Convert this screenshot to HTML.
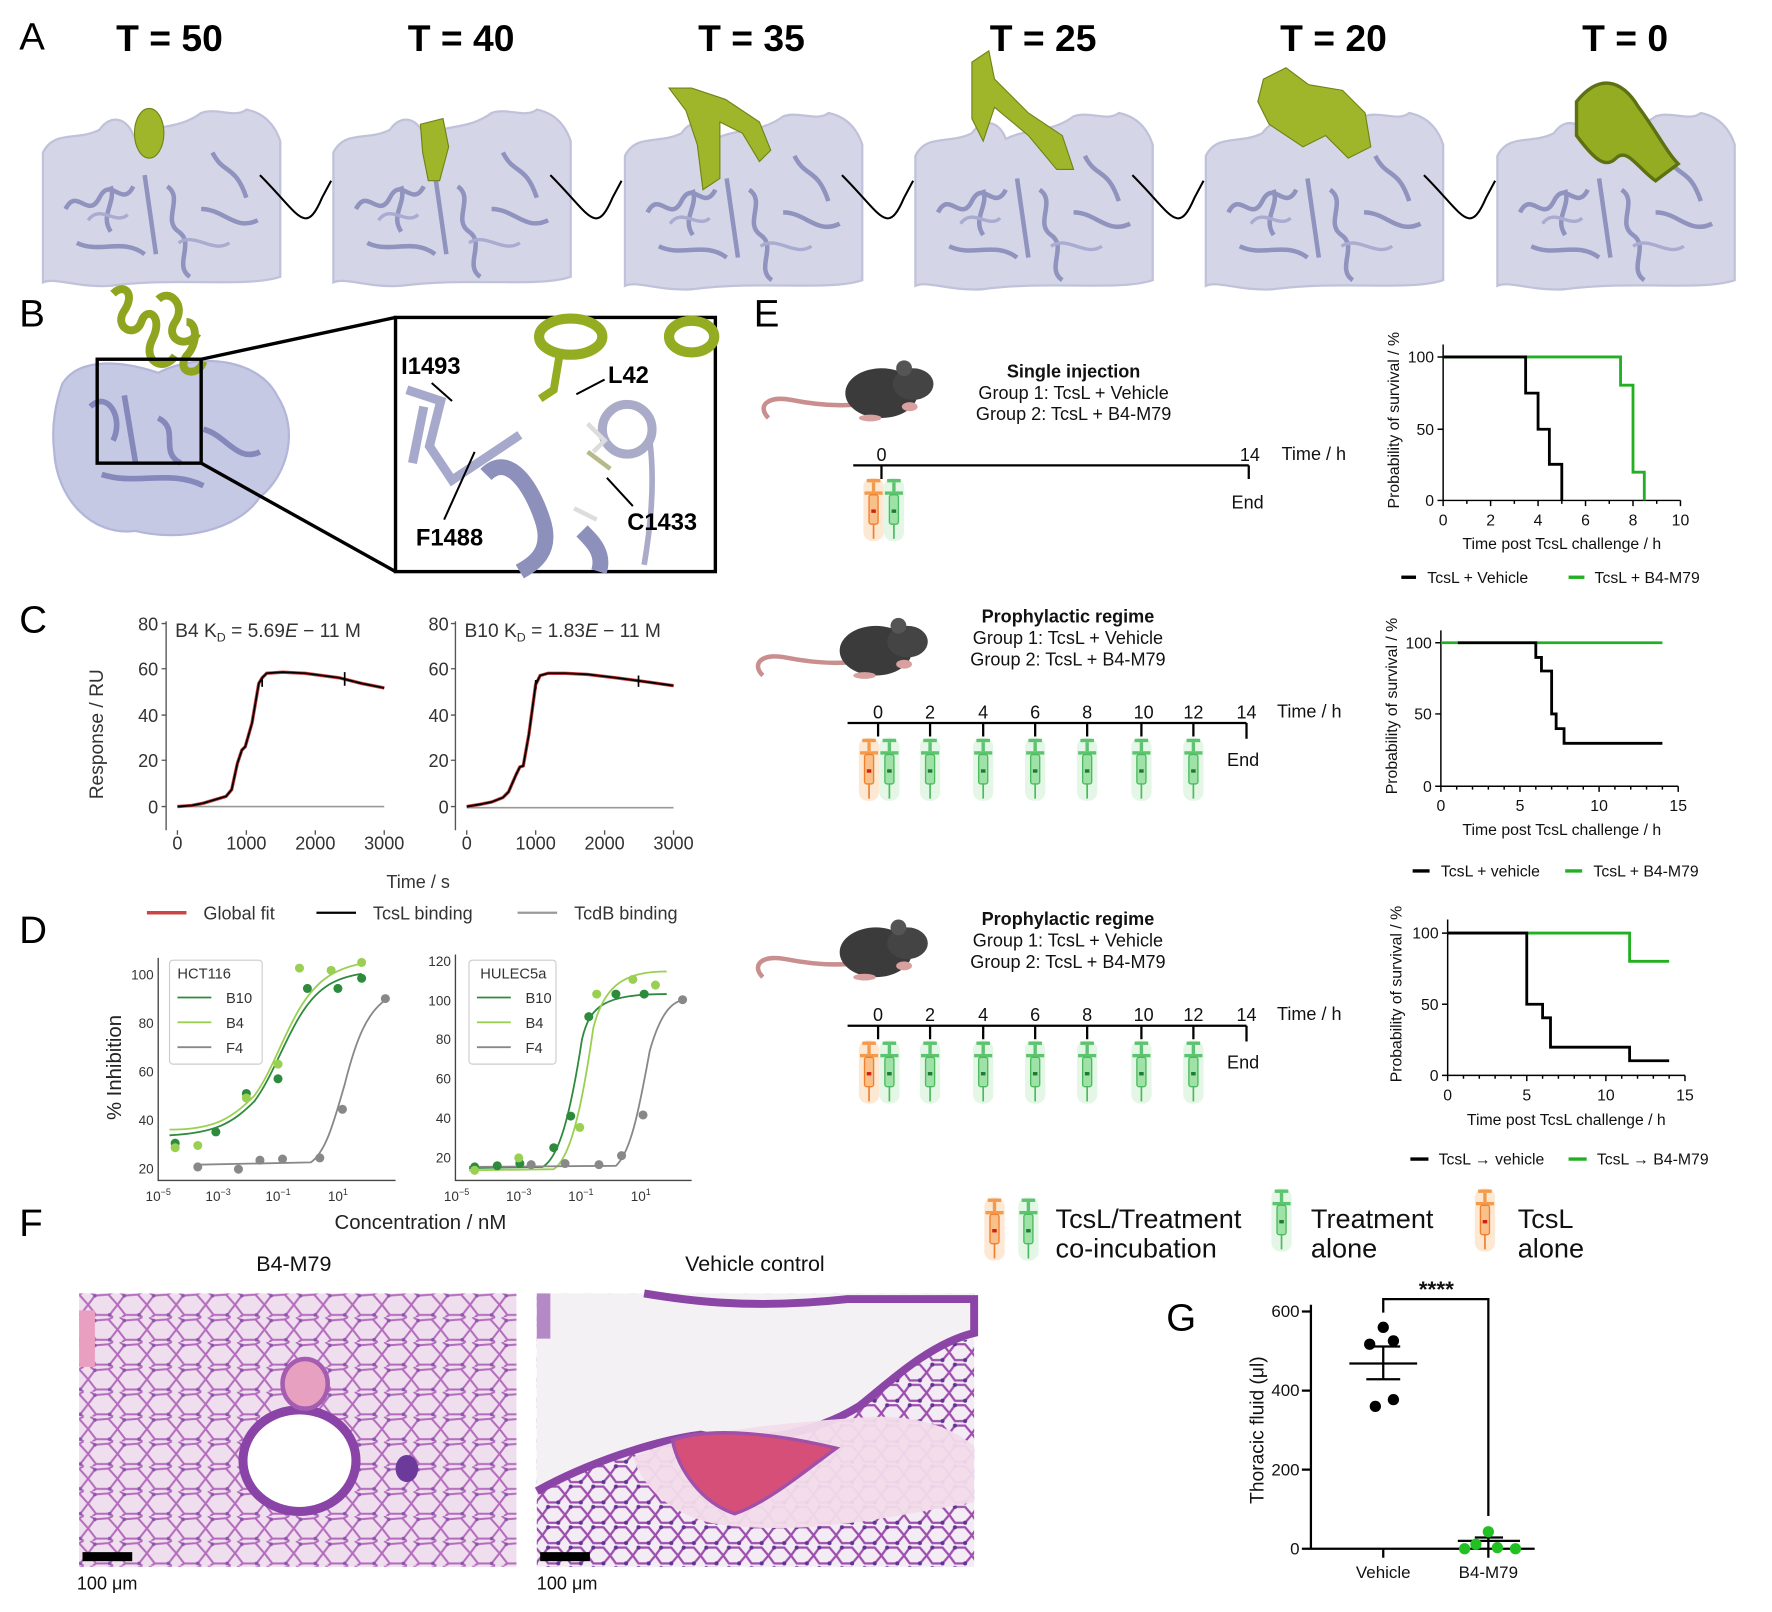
<!DOCTYPE html>
<html><head><meta charset="utf-8"><style>
html,body{margin:0;padding:0;background:#fff;}
svg{display:block;font-family:"Liberation Sans",sans-serif;}
</style></head><body>
<svg width="1772" height="1612" viewBox="0 0 1568 1427" preserveAspectRatio="none" xmlns="http://www.w3.org/2000/svg">
<defs>
<symbol id="sg" viewBox="-12 -2 24 60" overflow="visible">
 <rect x="-9" y="-1" width="18" height="56" rx="8" fill="#d8f3dc" opacity="0.7"/>
 <rect x="-6" y="0" width="12" height="3" fill="#5cc36f"/>
 <rect x="-1.5" y="3" width="3" height="8" fill="#5cc36f"/>
 <rect x="-8" y="11" width="16" height="3" fill="#5cc36f"/>
 <rect x="-4" y="14" width="8" height="26" rx="2" fill="#9ee2a8" stroke="#4cbb5f" stroke-width="1.2"/>
 <rect x="-2" y="27" width="4" height="3" fill="#1f7a30"/>
 <line x1="0" y1="40" x2="0" y2="53" stroke="#4cbb5f" stroke-width="1.5"/>
</symbol>
<symbol id="so" viewBox="-12 -2 24 60" overflow="visible">
 <rect x="-9" y="-1" width="18" height="56" rx="8" fill="#fde2c8" opacity="0.8"/>
 <rect x="-6" y="0" width="12" height="3" fill="#f39a4c"/>
 <rect x="-1.5" y="3" width="3" height="8" fill="#f39a4c"/>
 <rect x="-8" y="11" width="16" height="3" fill="#f39a4c"/>
 <rect x="-4" y="14" width="8" height="26" rx="2" fill="#f9c08a" stroke="#f08030" stroke-width="1.2"/>
 <rect x="-2" y="27" width="4" height="3" fill="#d02010"/>
 <line x1="0" y1="40" x2="0" y2="53" stroke="#f08030" stroke-width="1.5"/>
</symbol>
<symbol id="mouse" overflow="visible">
 <path d="M-70,40 C-80,30 -72,20 -50,24 C-30,28 -10,30 10,28" fill="none" stroke="#c98f8f" stroke-width="4"/>
 <ellipse cx="30" cy="18" rx="32" ry="22" fill="#3b3b3b"/>
 <ellipse cx="58" cy="10" rx="18" ry="14" fill="#444"/>
 <circle cx="50" cy="-4" r="7" fill="#555"/>
 <ellipse cx="55" cy="30" rx="7" ry="4" fill="#d9a0a0"/>
 <ellipse cx="20" cy="40" rx="10" ry="3" fill="#d9a0a0"/>
</symbol>
<symbol id="prot" overflow="visible">
 <path d="M0,40 C10,20 30,30 50,20 C60,5 75,10 80,25 C100,15 120,20 140,5 C155,0 170,10 180,2 C195,5 205,15 210,30 L210,150 C180,160 120,150 60,158 C30,160 10,150 0,155 Z" fill="#d4d6e8" stroke="#c0c2da" stroke-width="2"/>
 <path d="M20,90 c10,-20 20,10 30,-10 c10,-20 20,10 30,-10 M90,60 l10,70 M110,70 c15,10 -5,30 10,40 c15,10 -5,30 10,40 M140,90 c20,0 30,20 50,10 M30,120 c20,10 40,-5 60,10 M150,40 c10,20 20,10 30,40 M60,70 c5,15 -10,25 0,40" fill="none" stroke="#8f93bd" stroke-width="4"/>
 <path d="M40,100 c10,-15 25,5 35,-5 M120,120 c15,-10 30,10 45,0" fill="none" stroke="#a9acd0" stroke-width="3"/>
</symbol>
<pattern id="lung" width="26" height="22" patternUnits="userSpaceOnUse">
 <rect width="26" height="22" fill="#f7f0f6"/>
 <path d="M0,11 L6,3 L18,2 L26,11 L19,20 L7,20 Z M6,3 L2,0 M18,2 L22,0 M7,20 L4,22 M19,20 L22,22" fill="none" stroke="#a957b4" stroke-width="1.8"/>
 <circle cx="6" cy="3" r="1.6" fill="#6d3f9e"/><circle cx="19" cy="20" r="1.6" fill="#6d3f9e"/>
</pattern>
<pattern id="lung2" width="20" height="18" patternUnits="userSpaceOnUse">
 <rect width="20" height="18" fill="#f4ecf4"/>
 <path d="M0,9 L5,2 L14,2 L20,9 L14,16 L5,16 Z" fill="none" stroke="#9e4eae" stroke-width="2"/>
 <circle cx="5" cy="2" r="1.8" fill="#5e3494"/><circle cx="14" cy="16" r="1.8" fill="#5e3494"/>
</pattern>
</defs>

<!-- Panel A -->
<text x="17" y="44" font-size="34">A</text>
<g font-size="33" font-weight="bold" text-anchor="middle">
<text x="150" y="45">T = 50</text><text x="408" y="45">T = 40</text><text x="665" y="45">T = 35</text>
<text x="923" y="45">T = 25</text><text x="1180" y="45">T = 20</text><text x="1438" y="45">T = 0</text>
</g>
<use href="#prot" x="38" y="95"/><use href="#prot" x="295" y="95"/><use href="#prot" x="553" y="98"/>
<use href="#prot" x="810" y="98"/><use href="#prot" x="1067" y="98"/><use href="#prot" x="1325" y="98"/>
<g fill="#9fb52a" stroke="#6f8418" stroke-width="1">
<ellipse cx="132" cy="118" rx="13" ry="22"/>
<path d="M372,110 l20,-5 l5,25 l-8,30 l-10,0 l-5,-25 z"/>
<path d="M592,78 l20,0 l30,10 l30,20 l10,25 l-10,10 l-15,-25 l-20,-10 l0,50 l-15,10 l-5,-40 l-10,-30 z"/>
<path d="M860,55 l15,-10 l5,25 l30,30 l30,20 l10,30 l-15,0 l-25,-30 l-30,-25 l-10,30 l-10,-20 z"/>
<path d="M1118,70 l20,-10 l20,15 l30,5 l20,20 l5,30 l-20,10 l-20,-20 l-20,10 l-30,-20 l-10,-20 z"/>
</g>
<path d="M1395,90 c20,-25 40,-20 55,5 c15,20 25,40 35,50 l-20,15 c-15,-10 -25,-30 -35,-20 c-10,10 -20,0 -35,-20 z" fill="#93ac22" stroke="#5d7012" stroke-width="3"/>
<g fill="none" stroke="#000" stroke-width="1.8">
<path d="M230,155 C265,190 270,210 285,175 L293,160"/><path d="M487,155 C522,190 527,210 542,175 L550,160"/>
<path d="M745,155 C780,190 785,210 800,175 L808,160"/><path d="M1002,155 C1037,190 1042,210 1057,175 L1065,160"/>
<path d="M1260,155 C1295,190 1300,210 1315,175 L1323,160"/>
</g>

<!-- Panel B -->
<text x="17" y="289" font-size="34">B</text>
<path d="M55,340 C70,315 110,320 140,330 C180,310 230,320 245,350 C265,380 255,420 230,440 C210,470 160,480 120,470 C80,475 50,440 48,400 C45,375 50,355 55,340 Z" fill="#c6c9e4" stroke="#b3b6d8" stroke-width="2"/>
<path d="M80,360 c15,-15 30,10 20,30 M110,350 l10,60 M140,370 c20,10 0,30 20,40 M90,420 c30,10 60,-5 90,10 M180,380 c20,5 30,30 50,20" fill="none" stroke="#8488ba" stroke-width="5"/>
<path d="M100,260 c10,-10 20,0 10,15 c-10,15 10,25 15,10 c5,-15 20,-5 10,15 c-10,20 10,30 20,15 M140,265 c10,-10 25,5 15,20 c-10,15 10,25 20,10 M165,285 c10,0 10,20 0,30 c-10,15 10,20 15,5" fill="none" stroke="#8fa41f" stroke-width="7"/>
<rect x="86" y="318" width="92" height="92" fill="none" stroke="#000" stroke-width="3"/>
<line x1="178" y1="318" x2="350" y2="281" stroke="#000" stroke-width="3"/>
<line x1="178" y1="410" x2="350" y2="506" stroke="#000" stroke-width="3"/>
<rect x="350" y="281" width="283" height="225" fill="#fff" stroke="#000" stroke-width="3"/>
<g fill="none">
<ellipse cx="505" cy="298" rx="28" ry="16" stroke="#93ac22" stroke-width="9"/>
<ellipse cx="612" cy="298" rx="20" ry="14" stroke="#93ac22" stroke-width="9"/>
<path d="M495,315 l-5,30 l-12,8" stroke="#93ac22" stroke-width="7"/>
<circle cx="555" cy="380" r="22" stroke="#a9abc9" stroke-width="8"/>
<path d="M575,390 c5,40 0,80 -5,110" stroke="#a9abc9" stroke-width="5"/>
<path d="M360,345 l30,10 l-10,40 l20,30 l60,-40 M375,360 l-10,50" stroke="#a6a9cb" stroke-width="8"/>
<path d="M430,420 c20,-20 40,10 50,40 c10,30 -10,40 -20,46 M515,470 c10,10 20,20 15,36" stroke="#8d90ba" stroke-width="14"/>
<path d="M520,375 l15,15 l-10,10 M508,450 l20,10" stroke="#ddd" stroke-width="4"/>
<path d="M520,400 l20,15" stroke="#b8b98a" stroke-width="4"/>
</g>
<g font-size="21" font-weight="bold">
<text x="355" y="331">I1493</text><text x="538" y="339">L42</text>
<text x="368" y="483">F1488</text><text x="555" y="469">C1433</text>
</g>
<g stroke="#000" stroke-width="1.8" fill="#000">
<line x1="382" y1="339" x2="400" y2="355"/><line x1="535" y1="336" x2="510" y2="349"/>
<line x1="393" y1="460" x2="420" y2="400"/><line x1="560" y1="448" x2="537" y2="423"/>
</g>

<!-- Panel C -->
<text x="17" y="560" font-size="34">C</text>
<g font-size="16" fill="#333" text-anchor="end">
<text x="140" y="558">80</text><text x="140" y="598">60</text><text x="140" y="639">40</text><text x="140" y="679">20</text><text x="140" y="720">0</text>
<text x="397" y="558">80</text><text x="397" y="598">60</text><text x="397" y="639">40</text><text x="397" y="679">20</text><text x="397" y="720">0</text>
</g>
<g stroke="#555" stroke-width="1.2" fill="none">
<path d="M147,550 V735 M143,552 H147 M143,592 H147 M143,633 H147 M143,673 H147 M143,714 H147"/>
<path d="M157,735 v4 M218,735 v4 M279,735 v4 M340,735 v4"/>
<path d="M403,550 V735 M399,552 H403 M399,592 H403 M399,633 H403 M399,673 H403 M399,714 H403"/>
<path d="M413,735 v4 M474,735 v4 M535,735 v4 M596,735 v4"/>
</g>
<g font-size="16" fill="#333" text-anchor="middle">
<text x="157" y="752">0</text><text x="218" y="752">1000</text><text x="279" y="752">2000</text><text x="340" y="752">3000</text>
<text x="413" y="752">0</text><text x="474" y="752">1000</text><text x="535" y="752">2000</text><text x="596" y="752">3000</text>
<text x="370" y="786">Time / s</text>
</g>
<text x="155" y="564" font-size="17" fill="#333">B4 K<tspan font-size="11" dy="4">D</tspan><tspan dy="-4"> = 5.69<tspan font-style="italic">E</tspan> − 11 M</tspan></text>
<text x="411" y="564" font-size="17" fill="#333">B10 K<tspan font-size="11" dy="4">D</tspan><tspan dy="-4"> = 1.83<tspan font-style="italic">E</tspan> − 11 M</tspan></text>
<text transform="translate(91,650) rotate(-90)" font-size="17" fill="#333" text-anchor="middle">Response / RU</text>
<line x1="157" y1="714" x2="340" y2="714" stroke="#999" stroke-width="1.5"/>
<line x1="413" y1="715" x2="596" y2="715" stroke="#999" stroke-width="1.5"/>
<path d="M157,714 L170,713 L180,711 L200,705 L205,699 L210,676 L214,664 L217,661 L223,640 L229,605 L232,600 L236,596 L250,595 L270,596 L300,600 L320,605 L340,609" fill="none" stroke="#c44" stroke-width="3"/>
<path d="M157,714 L170,713 L180,711 L200,705 L205,699 L210,676 L214,664 L217,661 L223,640 L229,605 L232,600 L236,596 L250,595 L270,596 L300,600 L320,605 L340,609" fill="none" stroke="#000" stroke-width="1.6"/>
<path d="M413,714 L425,712 L435,710 L445,706 L450,701 L457,685 L460,679 L463,678 L468,650 L474,606 L478,598 L485,596 L500,596 L520,597 L545,600 L575,604 L596,607" fill="none" stroke="#c44" stroke-width="3"/>
<path d="M413,714 L425,712 L435,710 L445,706 L450,701 L457,685 L460,679 L463,678 L468,650 L474,606 L478,598 L485,596 L500,596 L520,597 L545,600 L575,604 L596,607" fill="none" stroke="#000" stroke-width="1.6"/>
<path d="M232,600 v8 M305,595 v12 M474,602 v8 M565,598 v10" stroke="#000" stroke-width="1.5"/>
<g font-size="16" fill="#333">
<line x1="130" y1="808" x2="165" y2="808" stroke="#c44" stroke-width="3"/><text x="180" y="814">Global fit</text>
<line x1="280" y1="808" x2="315" y2="808" stroke="#000" stroke-width="2"/><text x="330" y="814">TcsL binding</text>
<line x1="458" y1="808" x2="493" y2="808" stroke="#999" stroke-width="2"/><text x="508" y="814">TcdB binding</text>
</g>

<!-- Panel D -->
<text x="17" y="835" font-size="34">D</text>
<g stroke="#444" stroke-width="1.2" fill="none">
<path d="M140,848 V1045 H350"/><path d="M403,845 V1045 H612"/>
</g>
<g font-size="12" fill="#333" text-anchor="end">
<text x="136" y="867">100</text><text x="136" y="910">80</text><text x="136" y="953">60</text><text x="136" y="996">40</text><text x="136" y="1039">20</text>
<text x="399" y="855">120</text><text x="399" y="890">100</text><text x="399" y="924">80</text><text x="399" y="959">60</text><text x="399" y="994">40</text><text x="399" y="1029">20</text>
</g>
<g font-size="12" fill="#333" text-anchor="middle">
<text x="140" y="1063">10<tspan font-size="8" dy="-5">−5</tspan></text><text x="193" y="1063">10<tspan font-size="8" dy="-5">−3</tspan></text>
<text x="246" y="1063">10<tspan font-size="8" dy="-5">−1</tspan></text><text x="299" y="1063">10<tspan font-size="8" dy="-5">1</tspan></text>
<text x="404" y="1063">10<tspan font-size="8" dy="-5">−5</tspan></text><text x="459" y="1063">10<tspan font-size="8" dy="-5">−3</tspan></text>
<text x="514" y="1063">10<tspan font-size="8" dy="-5">−1</tspan></text><text x="567" y="1063">10<tspan font-size="8" dy="-5">1</tspan></text>
</g>
<text x="372" y="1088" font-size="18" fill="#222" text-anchor="middle">Concentration / nM</text>
<text transform="translate(107,945) rotate(-90)" font-size="18" fill="#222" text-anchor="middle">% Inhibition</text>
<g fill="none" stroke-width="1.6">
<path d="M150,1005 C190,1003 205,995 225,975 C240,955 250,925 265,900 C280,875 295,866 320,862" stroke="#2e8b3e"/>
<path d="M150,1000 C190,1000 205,990 225,970 C240,950 250,918 265,893 C280,868 295,858 320,853" stroke="#9ad052"/>
<path d="M175,1031 L275,1029 C288,1020 295,995 305,960 C315,920 325,895 343,884" stroke="#888"/>
<path d="M415,1034 L480,1033 C495,1025 505,985 515,920 C522,890 535,880 590,880" stroke="#2e8b3e"/>
<path d="M415,1036 L490,1035 C505,1025 515,980 525,910 C535,870 555,860 590,860" stroke="#9ad052"/>
<path d="M415,1033 L545,1032 C558,1020 565,985 575,930 C585,895 595,887 605,885" stroke="#888"/>
</g>
<g fill="#2e8b3e"><circle cx="155" cy="1012" r="4"/><circle cx="191" cy="1002" r="4"/><circle cx="218" cy="968" r="4"/><circle cx="246" cy="955" r="4"/><circle cx="272" cy="875" r="4"/><circle cx="299" cy="875" r="4"/><circle cx="320" cy="866" r="4"/>
<circle cx="420" cy="1033" r="4"/><circle cx="440" cy="1032" r="4"/><circle cx="460" cy="1030" r="4"/><circle cx="490" cy="1016" r="4"/><circle cx="505" cy="988" r="4"/><circle cx="521" cy="900" r="4"/><circle cx="545" cy="880" r="4"/><circle cx="570" cy="880" r="4"/></g>
<g fill="#9ad052"><circle cx="155" cy="1016" r="4"/><circle cx="175" cy="1014" r="4"/><circle cx="218" cy="972" r="4"/><circle cx="246" cy="942" r="4"/><circle cx="265" cy="857" r="4"/><circle cx="293" cy="859" r="4"/><circle cx="320" cy="852" r="4"/>
<circle cx="420" cy="1036" r="4"/><circle cx="459" cy="1025" r="4"/><circle cx="513" cy="998" r="4"/><circle cx="528" cy="880" r="4"/><circle cx="560" cy="867" r="4"/><circle cx="580" cy="872" r="4"/></g>
<g fill="#888"><circle cx="175" cy="1033" r="4"/><circle cx="211" cy="1035" r="4"/><circle cx="230" cy="1027" r="4"/><circle cx="250" cy="1026" r="4"/><circle cx="283" cy="1025" r="4"/><circle cx="303" cy="982" r="4"/><circle cx="341" cy="884" r="4"/>
<circle cx="470" cy="1031" r="4"/><circle cx="500" cy="1030" r="4"/><circle cx="530" cy="1031" r="4"/><circle cx="550" cy="1023" r="4"/><circle cx="569" cy="987" r="4"/><circle cx="604" cy="885" r="4"/></g>
<g font-size="13" fill="#333">
<rect x="150" y="850" width="82" height="92" fill="#fff" stroke="#ccc" rx="3"/>
<text x="157" y="866">HCT116</text>
<line x1="157" y1="883" x2="187" y2="883" stroke="#2e8b3e" stroke-width="1.6"/><text x="200" y="888">B10</text>
<line x1="157" y1="905" x2="187" y2="905" stroke="#9ad052" stroke-width="1.6"/><text x="200" y="910">B4</text>
<line x1="157" y1="927" x2="187" y2="927" stroke="#888" stroke-width="1.6"/><text x="200" y="932">F4</text>
<rect x="415" y="850" width="77" height="92" fill="#fff" stroke="#ccc" rx="3"/>
<text x="425" y="866">HULEC5a</text>
<line x1="422" y1="883" x2="452" y2="883" stroke="#2e8b3e" stroke-width="1.6"/><text x="465" y="888">B10</text>
<line x1="422" y1="905" x2="452" y2="905" stroke="#9ad052" stroke-width="1.6"/><text x="465" y="910">B4</text>
<line x1="422" y1="927" x2="452" y2="927" stroke="#888" stroke-width="1.6"/><text x="465" y="932">F4</text>
</g>

<!-- Panel E -->
<text x="667" y="289" font-size="34">E</text>
<use href="#mouse" x="750" y="330"/><use href="#mouse" x="745" y="558"/><use href="#mouse" x="745" y="825"/>
<g font-size="16" text-anchor="middle" fill="#111">
<text x="950" y="334" font-weight="bold">Single injection</text><text x="950" y="353">Group 1: TcsL + Vehicle</text><text x="950" y="372">Group 2: TcsL + B4-M79</text>
<text x="945" y="551" font-weight="bold">Prophylactic regime</text><text x="945" y="570">Group 1: TcsL + Vehicle</text><text x="945" y="589">Group 2: TcsL + B4-M79</text>
<text x="945" y="819" font-weight="bold">Prophylactic regime</text><text x="945" y="838">Group 1: TcsL + Vehicle</text><text x="945" y="857">Group 2: TcsL + B4-M79</text>
</g>
<g stroke="#000" stroke-width="2">
<path d="M755,412 H1105 M780,412 v12 M1105,412 v12"/>
<path d="M750,640 H1103 M777,640 v12 M823,640 v12 M870,640 v12 M916,640 v12 M962,640 v12 M1010,640 v12 M1056,640 v12 M1103,640 v14"/>
<path d="M750,908 H1103 M777,908 v12 M823,908 v12 M870,908 v12 M916,908 v12 M962,908 v12 M1010,908 v12 M1056,908 v12 M1103,908 v14"/>
</g>
<g font-size="16" text-anchor="middle" fill="#111">
<text x="780" y="408">0</text><text x="1106" y="408">14</text><text x="1104" y="450">End</text>
<text x="777" y="636">0</text><text x="823" y="636">2</text><text x="870" y="636">4</text><text x="916" y="636">6</text><text x="962" y="636">8</text><text x="1012" y="636">10</text><text x="1056" y="636">12</text><text x="1103" y="636">14</text><text x="1100" y="678">End</text>
<text x="777" y="904">0</text><text x="823" y="904">2</text><text x="870" y="904">4</text><text x="916" y="904">6</text><text x="962" y="904">8</text><text x="1012" y="904">10</text><text x="1056" y="904">12</text><text x="1103" y="904">14</text><text x="1100" y="946">End</text>
</g>
<g font-size="16" fill="#111"><text x="1134" y="407">Time / h</text><text x="1130" y="635">Time / h</text><text x="1130" y="903">Time / h</text></g>
<use href="#so" x="761" y="422" width="24" height="60"/><use href="#sg" x="779" y="422" width="24" height="60"/>
<use href="#so" x="757" y="652" width="24" height="60"/><use href="#sg" x="775" y="652" width="24" height="60"/>
<use href="#sg" x="811" y="652" width="24" height="60"/><use href="#sg" x="858" y="652" width="24" height="60"/><use href="#sg" x="904" y="652" width="24" height="60"/><use href="#sg" x="950" y="652" width="24" height="60"/><use href="#sg" x="998" y="652" width="24" height="60"/><use href="#sg" x="1044" y="652" width="24" height="60"/>
<use href="#so" x="757" y="920" width="24" height="60"/><use href="#sg" x="775" y="920" width="24" height="60"/>
<use href="#sg" x="811" y="920" width="24" height="60"/><use href="#sg" x="858" y="920" width="24" height="60"/><use href="#sg" x="904" y="920" width="24" height="60"/><use href="#sg" x="950" y="920" width="24" height="60"/><use href="#sg" x="998" y="920" width="24" height="60"/><use href="#sg" x="1044" y="920" width="24" height="60"/>

<!-- survival 1 -->
<g stroke="#000" stroke-width="1.3" fill="none">
<path d="M1277,305 V443 H1487 M1272,316 h5 M1272,380 h5 M1272,443 h5"/>
<path d="M1277,443 v5 M1298,443 v3 M1319,443 v5 M1340,443 v3 M1361,443 v5 M1382,443 v3 M1403,443 v5 M1424,443 v3 M1445,443 v5 M1466,443 v3 M1487,443 v5"/>
</g>
<path d="M1277,316 H1434 V341 H1445 V418 H1455 V443" fill="none" stroke="#22b022" stroke-width="2.5"/>
<path d="M1277,316 H1350 V348 H1361 V380 H1371 V411 H1382 V443" fill="none" stroke="#000" stroke-width="2.5"/>
<g font-size="14" fill="#111">
<text x="1269" y="321" text-anchor="end">100</text><text x="1269" y="385" text-anchor="end">50</text><text x="1269" y="448" text-anchor="end">0</text>
<g text-anchor="middle"><text x="1277" y="465">0</text><text x="1319" y="465">2</text><text x="1361" y="465">4</text><text x="1403" y="465">6</text><text x="1445" y="465">8</text><text x="1487" y="465">10</text>
<text x="1382" y="486">Time post TcsL challenge / h</text></g>
<text transform="translate(1238,372) rotate(-90)" text-anchor="middle">Probability of survival / %</text>
<line x1="1240" y1="511" x2="1253" y2="511" stroke="#000" stroke-width="3"/><text x="1263" y="516">TcsL + Vehicle</text>
<line x1="1388" y1="511" x2="1402" y2="511" stroke="#22b022" stroke-width="3"/><text x="1411" y="516">TcsL +  B4-M79</text>
</g>
<!-- survival 2 -->
<g stroke="#000" stroke-width="1.3" fill="none">
<path d="M1275,558 V696 H1485 M1270,569 h5 M1270,632 h5 M1270,696 h5"/>
<path d="M1275,696 v5 M1289,696 v3 M1303,696 v3 M1317,696 v3 M1331,696 v3 M1345,696 v5 M1359,696 v3 M1373,696 v3 M1387,696 v3 M1401,696 v3 M1415,696 v5 M1429,696 v3 M1443,696 v3 M1457,696 v3 M1471,696 v3 M1485,696 v5"/>
</g>
<path d="M1275,569 H1471" fill="none" stroke="#22b022" stroke-width="2.5"/>
<path d="M1290,569 H1359 V582 H1364 V594 H1373 V632 H1377 V645 H1384 V658 H1394 H1471" fill="none" stroke="#000" stroke-width="2.5"/>
<g font-size="14" fill="#111">
<text x="1267" y="574" text-anchor="end">100</text><text x="1267" y="637" text-anchor="end">50</text><text x="1267" y="701" text-anchor="end">0</text>
<g text-anchor="middle"><text x="1275" y="718">0</text><text x="1345" y="718">5</text><text x="1415" y="718">10</text><text x="1485" y="718">15</text>
<text x="1382" y="739">Time post TcsL challenge / h</text></g>
<text transform="translate(1236,625) rotate(-90)" text-anchor="middle">Probability of survival / %</text>
<line x1="1250" y1="771" x2="1265" y2="771" stroke="#000" stroke-width="3"/><text x="1275" y="776">TcsL + vehicle</text>
<line x1="1385" y1="771" x2="1400" y2="771" stroke="#22b022" stroke-width="3"/><text x="1410" y="776">TcsL + B4-M79</text>
</g>
<!-- survival 3 -->
<g stroke="#000" stroke-width="1.3" fill="none">
<path d="M1281,814 V952 H1491 M1276,826 h5 M1276,889 h5 M1276,952 h5"/>
<path d="M1281,952 v5 M1295,952 v3 M1309,952 v3 M1323,952 v3 M1337,952 v3 M1351,952 v5 M1365,952 v3 M1379,952 v3 M1393,952 v3 M1407,952 v3 M1421,952 v5 M1435,952 v3 M1449,952 v3 M1463,952 v3 M1477,952 v3 M1491,952 v5"/>
</g>
<path d="M1281,826 H1442 V851 H1477" fill="none" stroke="#22b022" stroke-width="2.5"/>
<path d="M1281,826 H1351 V889 H1365 V901 H1372 V927 H1442 V939 H1477" fill="none" stroke="#000" stroke-width="2.5"/>
<g font-size="14" fill="#111">
<text x="1273" y="831" text-anchor="end">100</text><text x="1273" y="894" text-anchor="end">50</text><text x="1273" y="957" text-anchor="end">0</text>
<g text-anchor="middle"><text x="1281" y="974">0</text><text x="1351" y="974">5</text><text x="1421" y="974">10</text><text x="1491" y="974">15</text>
<text x="1386" y="996">Time post TcsL challenge / h</text></g>
<text transform="translate(1240,880) rotate(-90)" text-anchor="middle">Probability of survival / %</text>
<line x1="1248" y1="1026" x2="1264" y2="1026" stroke="#000" stroke-width="3"/><text x="1273" y="1031">TcsL → vehicle</text>
<line x1="1388" y1="1026" x2="1404" y2="1026" stroke="#22b022" stroke-width="3"/><text x="1413" y="1031">TcsL → B4-M79</text>
</g>

<!-- syringe legend -->
<use href="#so" x="868" y="1055" width="24" height="68"/><use href="#sg" x="898" y="1055" width="24" height="68"/>
<use href="#sg" x="1122" y="1047" width="24" height="68"/><use href="#so" x="1302" y="1047" width="24" height="68"/>
<g font-size="24" fill="#111">
<text x="934" y="1087">TcsL/Treatment</text><text x="934" y="1113">co-incubation</text>
<text x="1160" y="1087">Treatment</text><text x="1160" y="1113">alone</text>
<text x="1343" y="1087">TcsL</text><text x="1343" y="1113">alone</text>
</g>

<!-- Panel F -->
<text x="17" y="1094" font-size="34">F</text>
<g font-size="19" fill="#111" text-anchor="middle"><text x="260" y="1125">B4-M79</text><text x="668" y="1125">Vehicle control</text></g>
<rect x="70" y="1145" width="387" height="242" fill="url(#lung)"/>
<rect x="70" y="1145" width="387" height="242" fill="#d8a8d8" opacity="0.25"/>
<ellipse cx="265" cy="1293" rx="50" ry="45" fill="#fff" stroke="#8a43a6" stroke-width="8"/>
<ellipse cx="270" cy="1225" rx="20" ry="22" fill="#e7a0bf" stroke="#a45db0" stroke-width="4"/>
<ellipse cx="360" cy="1300" rx="10" ry="12" fill="#6b3a9a"/>
<rect x="70" y="1160" width="14" height="50" fill="#e9a0c0"/>
<rect x="475" y="1145" width="387" height="242" fill="url(#lung2)"/>
<path d="M475,1145 H862 V1185 C820,1190 780,1230 760,1245 C720,1270 660,1280 620,1270 C580,1275 520,1295 475,1320 Z" fill="#f4f1f4"/>
<path d="M570,1145 C600,1150 660,1160 750,1150 L862,1150 L862,1180 C820,1190 780,1230 760,1245 C720,1270 660,1280 620,1270 C580,1275 520,1295 475,1320" fill="none" stroke="#8b45a6" stroke-width="7"/>
<path d="M560,1290 C600,1270 680,1260 760,1255 C820,1250 850,1270 862,1280 L862,1330 C800,1340 720,1360 640,1350 C600,1345 570,1320 560,1290 Z" fill="#f2dcea" opacity="0.95"/>
<path d="M595,1275 C630,1262 690,1270 740,1282 C715,1300 680,1330 650,1340 C620,1330 600,1300 595,1275 Z" fill="#d64f78" stroke="#a050a8" stroke-width="3"/>
<rect x="475" y="1145" width="12" height="40" fill="#8b45a6" opacity="0.6"/>
<rect x="73" y="1374" width="44" height="8" fill="#000"/><rect x="478" y="1374" width="44" height="8" fill="#000"/>
<g font-size="16" fill="#111"><text x="68" y="1407">100 μm</text><text x="475" y="1407">100 μm</text></g>

<!-- Panel G -->
<text x="1032" y="1178" font-size="34">G</text>
<g stroke="#000" stroke-width="2" fill="none">
<path d="M1160,1155 V1371 H1358 M1152,1161 h8 M1152,1231 h8 M1152,1301 h8 M1152,1371 h8 M1224,1371 v8 M1317,1371 v8"/>
<path d="M1224,1162 V1150 H1317 V1342"/>
<path d="M1194,1207 H1254 M1209,1192 H1239 M1209,1221 H1239 M1224,1192 V1221"/>
<path d="M1290,1364 H1345 M1305,1361 H1330 M1317,1361 V1371"/>
</g>
<g font-size="15" fill="#111">
<text x="1150" y="1166" text-anchor="end">600</text><text x="1150" y="1236" text-anchor="end">400</text><text x="1150" y="1306" text-anchor="end">200</text><text x="1150" y="1376" text-anchor="end">0</text>
<text x="1224" y="1397" text-anchor="middle">Vehicle</text><text x="1317" y="1397" text-anchor="middle">B4-M79</text>
<text transform="translate(1118,1266) rotate(-90)" text-anchor="middle" font-size="17">Thoracic fluid (μl)</text>
<text x="1271" y="1148" text-anchor="middle" font-size="20" font-weight="bold">****</text>
</g>
<g fill="#000"><circle cx="1224" cy="1175" r="5"/><circle cx="1233" cy="1187" r="5"/><circle cx="1212" cy="1190" r="5"/><circle cx="1217" cy="1245" r="5"/><circle cx="1233" cy="1239" r="5"/></g>
<g fill="#22c022"><circle cx="1296" cy="1371" r="5"/><circle cx="1306" cy="1367" r="5"/><circle cx="1317" cy="1356" r="5"/><circle cx="1325" cy="1370" r="5"/><circle cx="1341" cy="1371" r="5"/></g>
</svg>
</body></html>
